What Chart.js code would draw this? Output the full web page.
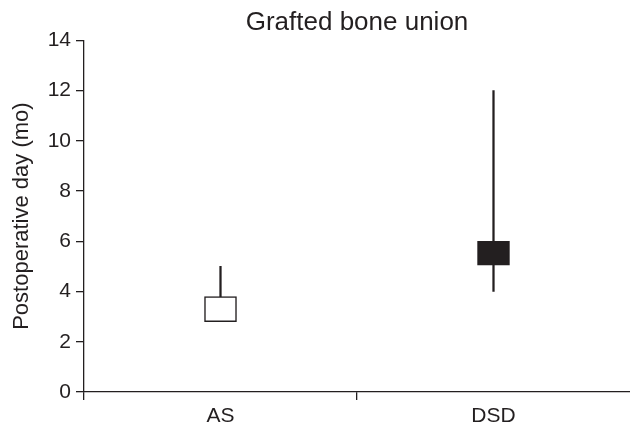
<!DOCTYPE html>
<html>
<head>
<meta charset="utf-8">
<script src="https://cdn.jsdelivr.net/npm/chart.js@4"></script>
<style>
  html, body { margin: 0; padding: 0; background: #fff; }
  #wrap { width: 630px; height: 425px; }
</style>
</head>
<body>
<div id="wrap"><canvas id="boneChart" width="630" height="425"></canvas></div>
<script>
// values (months)
const categories = ['AS', 'DSD'];
const boxLow = [2.8, 5.05];
const boxHigh = [3.8, 6.0];
const whiskerLow = [2.8, 4.0];
const whiskerHigh = [5.0, 12.0];
const boxFill = ['#ffffff', '#231f20'];

const ink = '#231f20';
const font = "'Liberation Sans', Arial, Helvetica, sans-serif";

const boxes = categories.map((c, i) => [boxLow[i], boxHigh[i]]);
const whiskers = categories.map((c, i) => [whiskerLow[i], whiskerHigh[i]]);

const ctx = document.getElementById('boneChart').getContext('2d');
new Chart(ctx, {
    type: 'bar',
    data: {
        labels: categories,
        datasets: [
            {
                label: 'box',
                data: boxes,
                backgroundColor: boxFill,
                borderColor: ink,
                borderWidth: 1.5,
                borderSkipped: false,
                barThickness: 32,
                grouped: false,
                order: 0
            },
            {
                label: 'range',
                data: whiskers,
                backgroundColor: ink,
                borderWidth: 0,
                barThickness: 1.6,
                grouped: false,
                order: 1
            }
        ]
    },
    options: {
        responsive: false,
        animation: false,
        layout: { padding: 0 },
        plugins: {
            legend: { display: false },
            tooltip: { enabled: false },
            title: {
                display: true,
                text: 'Grafted bone union',
                color: ink,
                fullSize: false,
                font: { family: font, size: 26, weight: 'normal' },
                padding: { top: 7, bottom: 2 }
            }
        },
        scales: {
            x: {
                offset: true,
                grid: {
                    offset: true,
                    drawOnChartArea: false,
                    tickLength: 8,
                    lineWidth: 1.3,
                    // no tick at the far right end of the axis
                    color: (c) => c.type === 'tick' ? ink : 'rgba(0,0,0,0)'
                },
                border: { color: ink, width: 1.3 },
                ticks: { color: ink, font: { family: font, size: 21 }, padding: 4 },
                afterFit: (scale) => { scale.height = 33; }
            },
            y: {
                min: 0,
                max: 14,
                ticks: { stepSize: 2, color: ink, font: { family: font, size: 21 }, padding: 5 },
                grid: { drawOnChartArea: false, tickLength: 8, color: ink, lineWidth: 1.3 },
                border: { color: ink, width: 1.3 },
                title: {
                    display: true,
                    text: 'Postoperative day (mo)',
                    color: ink,
                    font: { family: font, size: 22 },
                    padding: { top: 9, bottom: 0 }
                },
                afterFit: (scale) => { scale.width = 84; }
            }
        }
    }
});
</script>
</body>
</html>
